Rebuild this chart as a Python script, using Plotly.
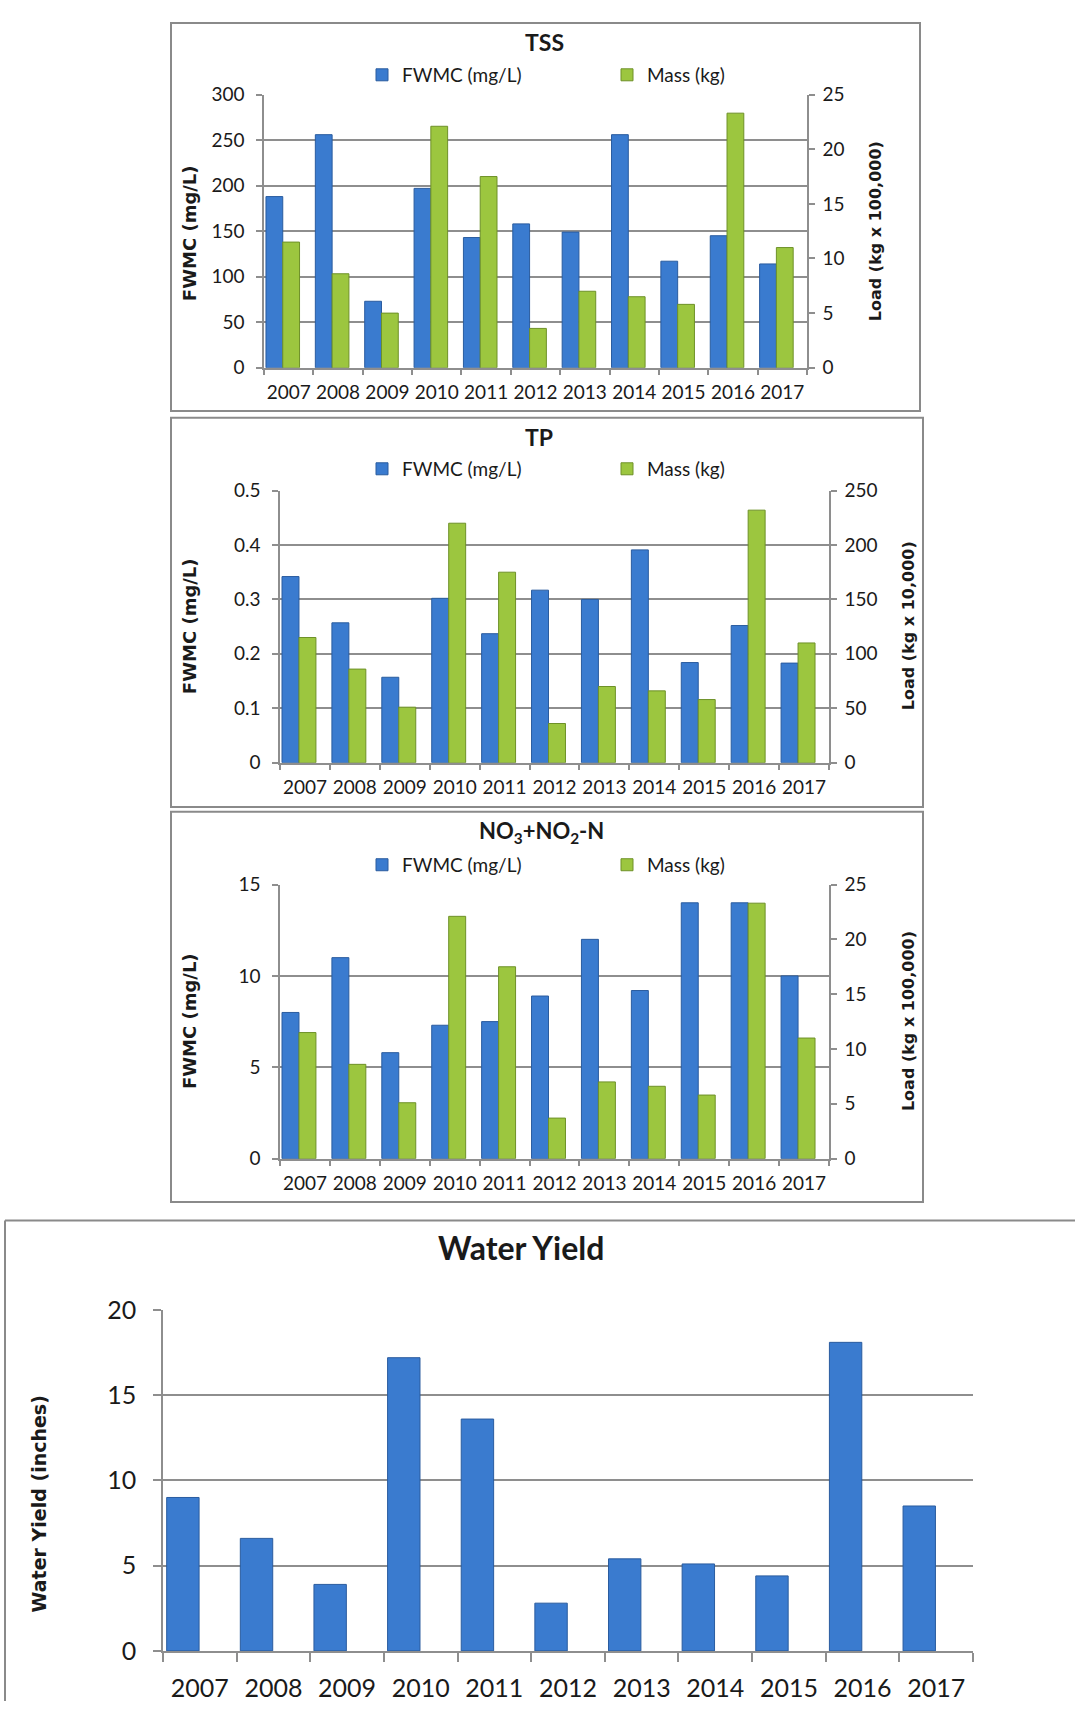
import plotly.graph_objects as go

W, H = 1075, 1715

years = ["2007", "2008", "2009", "2010", "2011", "2012", "2013", "2014", "2015", "2016", "2017"]

tss_fwmc = [188, 256, 73, 197, 143, 158, 149, 256, 117, 145, 114]
tss_mass = [11.5, 8.6, 5.0, 22.1, 17.5, 3.6, 7.0, 6.5, 5.8, 23.3, 11.0]

tp_fwmc = [0.342, 0.257, 0.157, 0.302, 0.237, 0.317, 0.300, 0.391, 0.184, 0.252, 0.183]
tp_mass = [115, 86, 51, 220, 175, 36, 70, 66, 58, 232, 110]

no3_fwmc = [8.0, 11.0, 5.8, 7.3, 7.5, 8.9, 12.0, 9.2, 14.0, 14.0, 10.0]
no3_mass = [11.5, 8.6, 5.1, 22.1, 17.5, 3.7, 7.0, 6.6, 5.8, 23.3, 11.0]

water_yield = [9.0, 6.6, 3.9, 17.2, 13.6, 2.8, 5.4, 5.1, 4.4, 18.1, 8.5]

BLUE = "#3A7BCF"
BLUE_LINE = "#2A5C9F"
GREEN = "#9CC63F"
GREEN_LINE = "#6E9128"
GRID = "#8E8E8E"
TXT = "#1a1a1a"
TICKFONT = "Lato, 'Open Sans', sans-serif"
BOLDFONT = "'DejaVu Sans', Verdana, sans-serif"


def px_x(v):
    return v / W


def px_y(v):
    return 1 - v / H


fig = go.Figure()

panels = [
    dict(xa="x", ya="y", yb="y2", box=(264, 807, 80, 358), f=tss_fwmc, m=tss_mass,
         lr=[0, 300], ld=50, rr=[0, 25], rd=5, leg="legend"),
    dict(xa="x2", ya="y3", yb="y4", box=(280, 829, 483, 760), f=tp_fwmc, m=tp_mass,
         lr=[0, 0.5], ld=0.1, rr=[0, 250], rd=50, leg="legend2"),
    dict(xa="x3", ya="y5", yb="y6", box=(280, 829, 884, 1163), f=no3_fwmc, m=no3_mass,
         lr=[0, 15], ld=5, rr=[0, 25], rd=5, leg="legend3"),
]

layout = dict(
    width=W, height=H,
    margin=dict(l=0, r=0, t=0, b=0),
    paper_bgcolor="white", plot_bgcolor="white",
    barmode="overlay",
    font=dict(family=TICKFONT, color=TXT),
)


def axname(a):
    return "xaxis" + a[1:] if a.startswith("x") else "yaxis" + a[1:]


for p in panels:
    x0, x1, y0, y1 = p["box"]
    fig.add_trace(go.Bar(
        x=years, y=p["f"], name="FWMC (mg/L)", xaxis=p["xa"], yaxis=p["ya"],
        offset=-0.46, width=0.34,
        marker=dict(color=BLUE, line=dict(color=BLUE_LINE, width=1)),
        legend=p["leg"],
    ))
    fig.add_trace(go.Bar(
        x=years, y=p["m"], name="Mass (kg)", xaxis=p["xa"], yaxis=p["yb"],
        offset=-0.12, width=0.34,
        marker=dict(color=GREEN, line=dict(color=GREEN_LINE, width=1)),
        legend=p["leg"],
    ))
    layout[axname(p["xa"])] = dict(
        domain=[px_x(x0), px_x(x1)], anchor=p["ya"], type="category",
        tickson="boundaries", ticks="outside", ticklen=6, tickcolor=GRID, tickwidth=1.5,
        showline=True, linecolor=GRID, linewidth=1.5, showgrid=False, tickangle=0,
        tickfont=dict(size=19, family=TICKFONT, color=TXT), ticklabelstandoff=7,
        fixedrange=True,
    )
    layout[axname(p["ya"])] = dict(
        domain=[px_y(y1), px_y(y0)], anchor=p["xa"], range=p["lr"], dtick=p["ld"],
        showgrid=True, gridcolor=GRID, gridwidth=1.5, zeroline=False,
        showline=True, linecolor=GRID, linewidth=1.5,
        ticks="outside", ticklen=6, tickcolor=GRID, tickwidth=1.5,
        tickfont=dict(size=19, family=TICKFONT, color=TXT), ticklabelstandoff=8,
    )
    layout[axname(p["yb"])] = dict(
        overlaying=p["ya"], anchor=p["xa"], side="right", range=p["rr"], dtick=p["rd"],
        showgrid=False, zeroline=False,
        showline=True, linecolor=GRID, linewidth=1.5,
        ticks="outside", ticklen=6, tickcolor=GRID, tickwidth=1.5,
        tickfont=dict(size=19, family=TICKFONT, color=TXT), ticklabelstandoff=4,
    )

# Water yield panel
fig.add_trace(go.Bar(
    x=years, y=water_yield, name="Water Yield", xaxis="x4", yaxis="y7",
    offset=-0.45, width=0.44, showlegend=False,
    marker=dict(color=BLUE, line=dict(color=BLUE_LINE, width=1)),
))
layout["xaxis4"] = dict(
    domain=[px_x(163), px_x(973)], anchor="y7", type="category",
    tickson="boundaries", ticks="outside", ticklen=9, tickcolor=GRID, tickwidth=1.5,
    showline=True, linecolor=GRID, linewidth=1.5, showgrid=False, tickangle=0,
    tickfont=dict(size=25, family=TICKFONT, color=TXT), ticklabelstandoff=14,
)
layout["yaxis7"] = dict(
    domain=[px_y(1664), px_y(1317)], anchor="x4", range=[0, 20], dtick=5,
    showgrid=True, gridcolor=GRID, gridwidth=1.5, zeroline=False,
    showline=True, linecolor=GRID, linewidth=1.5,
    ticks="outside", ticklen=8, tickcolor=GRID, tickwidth=1.5,
    tickfont=dict(size=25, family=TICKFONT, color=TXT), ticklabelstandoff=12,
)

for name, yc in [("legend", 60), ("legend2", 461), ("legend3", 864)]:
    layout[name] = dict(
        orientation="h", x=px_x(362), y=px_y(yc), xanchor="left", yanchor="middle",
        font=dict(size=19, family=TICKFONT, color=TXT), bgcolor="rgba(0,0,0,0)",
        entrywidth=200, entrywidthmode="pixels", itemwidth=30, traceorder="normal",
    )

annotations = []
titles = [("<b>TSS</b>", 544, 26, 23), ("<b>TP</b>", 539, 429, 23),
          ("<b>NO<sub>3</sub>+NO<sub>2</sub>-N</b>", 541, 831, 22),
          ("<b>Water Yield</b>", 521, 1253, 32)]
for t, x, y, s in titles:
    annotations.append(dict(text=t, x=px_x(x), y=px_y(y), xref="paper", yref="paper",
                            showarrow=False, xanchor="center", yanchor="middle",
                            font=dict(size=s, family=TICKFONT, color=TXT)))

ytitles = [("<b>FWMC (mg/L)</b>", 189, 221, 18), ("<b>Load (kg x 100,000)</b>", 875, 219, 16),
           ("<b>FWMC (mg/L)</b>", 189, 621, 18), ("<b>Load (kg x 10,000)</b>", 908, 621, 16),
           ("<b>FWMC (mg/L)</b>", 189, 1023, 18), ("<b>Load (kg x 100,000)</b>", 908, 1023, 16),
           ("<b>Water Yield (inches)</b>", 39, 1515, 19)]
for t, x, y, s in ytitles:
    annotations.append(dict(text=t, x=px_x(x), y=px_y(y), xref="paper", yref="paper",
                            showarrow=False, xanchor="center", yanchor="middle", textangle=-90,
                            font=dict(size=s, family=BOLDFONT, color=TXT)))
layout["annotations"] = annotations

BOX = "#8A8A8A"
shapes = []
for (bx0, bx1, by0, by1) in [(171, 920, 7, 402), (171, 923, 409, 805), (171, 923, 810, 1207)]:
    shapes.append(dict(type="rect", xref="paper", yref="paper",
                       x0=px_x(bx0), x1=px_x(bx1), y0=px_y(by1), y1=px_y(by0),
                       line=dict(color=BOX, width=2), fillcolor="rgba(0,0,0,0)", layer="below"))
shapes.append(dict(type="line", xref="paper", yref="paper", x0=px_x(5), x1=1,
                   y0=px_y(1226), y1=px_y(1226), line=dict(color=BOX, width=2)))
shapes.append(dict(type="line", xref="paper", yref="paper", x0=px_x(5), x1=px_x(5),
                   y0=px_y(1226), y1=0, line=dict(color=BOX, width=2)))
layout["shapes"] = shapes

fig.update_layout(**layout)

post = (
    "var d=document.getElementById('{plot_id}');"
    "d.style.position='absolute';d.style.top='0px';d.style.left='0px';"
    "document.documentElement.style.margin='0';document.body.style.margin='0';"
    "document.documentElement.style.overflow='hidden';document.body.style.overflow='hidden';"
    "var vw=window.innerWidth, vh=window.innerHeight;"
    "if(vw>900 && vh>1400 && (vw!==1075 || vh!==1715)){"
    "d.style.width=vw+'px';d.style.height=vh+'px';"
    "Plotly.relayout(d,{width:vw,height:vh});}"
)
fig.write_html("out.html", post_script=post, config={"displayModeBar": False})
